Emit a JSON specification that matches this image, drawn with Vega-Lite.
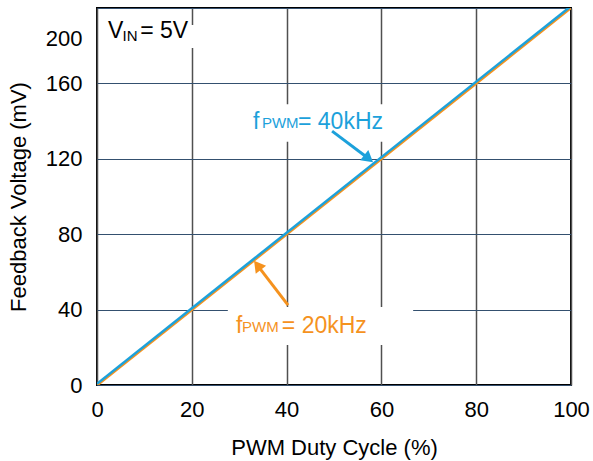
{
  "$schema": "https://vega.github.io/schema/vega-lite/v6.json",
  "width": 474,
  "height": 377,
  "autosize": "none",
  "padding": {"left": 97, "top": 8, "right": 22, "bottom": 76},
  "background": "white",
  "config": {
    "font": "Liberation Sans",
    "view": {"stroke": "#000000", "strokeWidth": 2}
  },
  "datasets": {
    "curves": [
      {"duty": 0, "mv": -0.2, "series": "20 kHz"},
      {"duty": 100, "mv": 200, "series": "20 kHz"},
      {"duty": 0, "mv": 0.6, "series": "40 kHz"},
      {"duty": 100, "mv": 201, "series": "40 kHz"}
    ],
    "boxes": [
      {"x": 0.6, "x2": 21.7, "y": 178.8, "y2": 191},
      {"x": 31, "x2": 70.3, "y": 129, "y2": 149},
      {"x": 27.6, "x2": 66.7, "y": 21.2, "y2": 41.4}
    ],
    "labels": [
      {"text": "V", "x": 2.3, "y": 184.1, "kind": "main", "series": "VIN"},
      {"text": "IN", "x": 5.4, "y": 182.3, "kind": "sub", "series": "VIN"},
      {"text": "= 5V", "x": 9.1, "y": 184.1, "kind": "main", "series": "VIN"},
      {"text": "f", "x": 32.9, "y": 135.8, "kind": "main", "series": "40 kHz"},
      {"text": "PWM", "x": 34.8, "y": 136.6, "kind": "sub", "series": "40 kHz"},
      {"text": "= 40kHz", "x": 42.4, "y": 135.8, "kind": "main", "series": "40 kHz"},
      {"text": "f", "x": 29.3, "y": 27.5, "kind": "main", "series": "20 kHz"},
      {"text": "PWM", "x": 30.6, "y": 28.3, "kind": "sub", "series": "20 kHz"},
      {"text": "= 20kHz", "x": 39.0, "y": 27.5, "kind": "main", "series": "20 kHz"}
    ],
    "arrows": [
      {"series": "40 kHz", "x": 49.6, "y": 134.7, "x2": 57.0, "y2": 120.7},
      {"series": "20 kHz", "x": 40.3, "y": 42.4, "x2": 34.1, "y2": 62.7}
    ]
  },
  "layer": [
    {
      "data": {"name": "boxes"},
      "mark": {"type": "rect", "color": "white"},
      "encoding": {
        "x": {"field": "x", "type": "quantitative", "scale": {"domain": [0, 100], "nice": false},
          "axis": {
            "values": [0, 20, 40, 60, 80, 100],
            "grid": true, "gridColor": "#505050", "gridWidth": 1.5,
            "ticks": false, "domain": false, "labelFlush": false,
            "labelFontSize": 22, "labelColor": "#000000", "labelPadding": 14,
            "title": "PWM Duty Cycle (%)", "titleFontSize": 22, "titleFontWeight": "normal",
            "titleColor": "#000000", "titlePadding": 17
          }},
        "x2": {"field": "x2"},
        "y": {"field": "y", "type": "quantitative", "scale": {"domain": [0, 200], "nice": false},
          "axis": {
            "values": [0, 40, 80, 120, 160, 200],
            "grid": true, "gridColor": "#34506f", "gridWidth": 1.2,
            "ticks": false, "domain": false, "labelFlush": false,
            "labelFontSize": 22, "labelColor": "#000000", "labelPadding": 15,
            "labelOffset": {"condition": {"test": "datum.value === 200", "value": 30}, "value": 0},
            "title": "Feedback Voltage (mV)", "titleFontSize": 22, "titleFontWeight": "normal",
            "titleColor": "#000000", "titlePadding": 15
          }},
        "y2": {"field": "y2"}
      }
    },
    {
      "data": {"name": "curves"},
      "transform": [{"filter": "datum.series === '20 kHz'"}],
      "mark": {"type": "line", "strokeWidth": 2.5, "clip": true},
      "encoding": {
        "x": {"field": "duty", "type": "quantitative"},
        "y": {"field": "mv", "type": "quantitative"},
        "color": {"field": "series", "type": "nominal",
          "scale": {"domain": ["20 kHz", "40 kHz", "VIN"], "range": ["#F5921E", "#1CA1DB", "#000000"]},
          "legend": null}
      }
    },
    {
      "data": {"name": "curves"},
      "transform": [{"filter": "datum.series === '40 kHz'"}],
      "mark": {"type": "line", "strokeWidth": 2.5, "clip": true},
      "encoding": {
        "x": {"field": "duty", "type": "quantitative"},
        "y": {"field": "mv", "type": "quantitative"},
        "color": {"field": "series", "type": "nominal", "legend": null}
      }
    },
    {
      "data": {"name": "arrows"},
      "mark": {"type": "rule", "strokeWidth": 3},
      "encoding": {
        "x": {"field": "x", "type": "quantitative"},
        "y": {"field": "y", "type": "quantitative"},
        "x2": {"field": "x2"},
        "y2": {"field": "y2"},
        "color": {"field": "series", "type": "nominal", "legend": null}
      }
    },
    {
      "data": {"name": "arrows"},
      "transform": [{"filter": "datum.series === '40 kHz'"}],
      "mark": {"type": "point", "shape": "triangle", "filled": true, "size": 170, "angle": 128.7, "opacity": 1},
      "encoding": {
        "x": {"field": "x2", "type": "quantitative"},
        "y": {"field": "y2", "type": "quantitative"},
        "color": {"field": "series", "type": "nominal", "legend": null}
      }
    },
    {
      "data": {"name": "arrows"},
      "transform": [{"filter": "datum.series === '20 kHz'"}],
      "mark": {"type": "point", "shape": "triangle", "filled": true, "size": 170, "angle": 322.5, "opacity": 1},
      "encoding": {
        "x": {"field": "x2", "type": "quantitative"},
        "y": {"field": "y2", "type": "quantitative"},
        "color": {"field": "series", "type": "nominal", "legend": null}
      }
    },
    {
      "data": {"name": "labels"},
      "transform": [{"filter": "datum.kind === 'main'"}],
      "mark": {"type": "text", "align": "left", "baseline": "alphabetic", "fontSize": 23},
      "encoding": {
        "x": {"field": "x", "type": "quantitative"},
        "y": {"field": "y", "type": "quantitative"},
        "text": {"field": "text"},
        "color": {"field": "series", "type": "nominal", "legend": null}
      }
    },
    {
      "data": {"name": "labels"},
      "transform": [{"filter": "datum.kind === 'sub'"}],
      "mark": {"type": "text", "align": "left", "baseline": "alphabetic", "fontSize": 15},
      "encoding": {
        "x": {"field": "x", "type": "quantitative"},
        "y": {"field": "y", "type": "quantitative"},
        "text": {"field": "text"},
        "color": {"field": "series", "type": "nominal", "legend": null}
      }
    }
  ]
}
